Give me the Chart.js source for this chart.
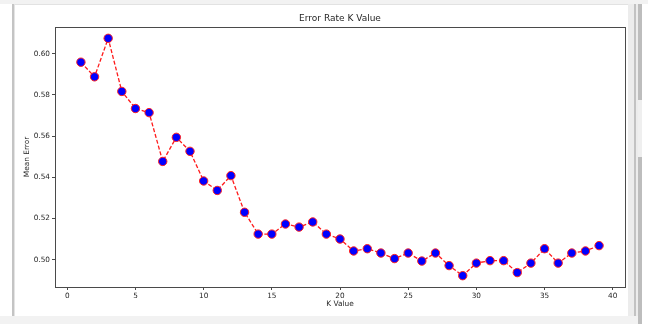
<!DOCTYPE html>
<html>
<head>
<meta charset="utf-8">
<script src="https://cdn.jsdelivr.net/npm/chart.js@4/dist/chart.umd.min.js"></script>
<style>
    body { margin: 0; background: #fff; }
    #wrap { position: relative; width: 648px; height: 324px; overflow: hidden; background: #fff; }
    .chrome { position: absolute; }
    canvas { position: absolute; left: 0; top: 0; }
</style>
</head>
<body>
<div id="wrap">
    <!-- window chrome round the figure -->
    <div class="chrome" style="left:0;top:0;width:648px;height:4px;background:#f2f2f2"></div>
    <div class="chrome" style="left:14px;top:4px;width:614px;height:1px;background:#e2e2e2"></div>
    <div class="chrome" style="left:12px;top:4px;width:2px;height:312px;background:#c4c4c4"></div>
    <div class="chrome" style="left:14px;top:4px;width:1px;height:312px;background:#e4e4e4"></div>
    <div class="chrome" style="left:628px;top:4px;width:6px;height:312px;background:#ececec"></div>
    <div class="chrome" style="left:634px;top:4px;width:2px;height:312px;background:#c2c2c2"></div>
    <div class="chrome" style="left:636px;top:4px;width:2px;height:312px;background:#ececec"></div>
    <div class="chrome" style="left:638px;top:4px;width:4px;height:96px;background:#bdbdbd"></div>
    <div class="chrome" style="left:638px;top:100px;width:4px;height:57px;background:#efefef"></div>
    <div class="chrome" style="left:638px;top:157px;width:4px;height:167px;background:#bdbdbd"></div>
    <div class="chrome" style="left:0;top:316px;width:638px;height:8px;background:#f2f2f2"></div>
    <canvas id="errorChart" width="648" height="324"></canvas>
</div>
<script>
// K values and mean error
const kValues = [1, 2, 3, 4, 5, 6, 7, 8, 9, 10, 11, 12, 13, 14, 15, 16, 17, 18, 19, 20,
    21, 22, 23, 24, 25, 26, 27, 28, 29, 30, 31, 32, 33, 34, 35, 36, 37, 38, 39];
const meanError = [0.5959, 0.5888, 0.6075, 0.5817, 0.5734, 0.5714, 0.5477, 0.5594, 0.5526, 0.5382,
    0.5336, 0.5408, 0.5230, 0.5124, 0.5124, 0.5173, 0.5158, 0.5183, 0.5124, 0.5100,
    0.5042, 0.5053, 0.5032, 0.5005, 0.5032, 0.4993, 0.5032, 0.4971, 0.4922, 0.4983,
    0.4995, 0.4995, 0.4937, 0.4983, 0.5053, 0.4983, 0.5032, 0.5042, 0.5068];
const xTicks = [0, 5, 10, 15, 20, 25, 30, 35, 40];
const yTicks = [0.50, 0.52, 0.54, 0.56, 0.58, 0.60];

const fontFamily = '"DejaVu Sans", sans-serif';
const textColor = '#262626';

// frame round the plot area and the title centred over it
const framePlugin = {
    id: 'frame',
    afterDraw(chart) {
        const { ctx, chartArea: a } = chart;
        ctx.save();
        ctx.strokeStyle = '#4a4a4a';
        ctx.lineWidth = 1;
        ctx.strokeRect(Math.round(a.left) + 0.5, Math.round(a.top) + 0.5,
            Math.round(a.right - a.left), Math.round(a.bottom - a.top));
        ctx.fillStyle = textColor;
        ctx.font = '9px ' + fontFamily;
        ctx.textAlign = 'center';
        ctx.textBaseline = 'middle';
        ctx.fillText('Error Rate K Value', (a.left + a.right) / 2, 19);
        ctx.restore();
    }
};

const ctx = document.getElementById('errorChart').getContext('2d');
new Chart(ctx, {
    type: 'line',
    data: {
        datasets: [{
            data: kValues.map((k, i) => ({ x: k, y: meanError[i] })),
            borderColor: '#ff1a1a',
            borderWidth: 1.3,
            borderDash: [4, 2],
            pointRadius: 4.2,
            pointBorderWidth: 1,
            pointBackgroundColor: '#0000ff',
            pointBorderColor: '#ff2020',
            tension: 0
        }]
    },
    options: {
        responsive: false,
        animation: false,
        devicePixelRatio: 1,
        layout: { padding: { left: 15, top: 27, right: 23, bottom: 0 } },
        plugins: {
            legend: { display: false },
            tooltip: { enabled: false }
        },
        scales: {
            x: {
                type: 'linear',
                min: -0.9,
                max: 40.9,
                afterBuildTicks: scale => { scale.ticks = xTicks.map(v => ({ value: v })); },
                afterFit: scale => { scale.height = 37; },
                border: { display: false },
                grid: { display: true, drawOnChartArea: false, drawTicks: true, tickLength: 3, tickColor: '#4a4a4a' },
                ticks: {
                    autoSkip: false,
                    maxRotation: 0,
                    padding: 2,
                    color: textColor,
                    font: { family: fontFamily, size: 7.3 },
                    callback: v => String(v)
                },
                title: {
                    display: true,
                    text: 'K Value',
                    color: textColor,
                    font: { family: fontFamily, size: 7.4 },
                    padding: { top: 0, bottom: 15 }
                }
            },
            y: {
                type: 'linear',
                min: 0.4867,
                max: 0.6130,
                afterBuildTicks: scale => { scale.ticks = yTicks.map(v => ({ value: v })); },
                afterFit: scale => { scale.width = 40; },
                border: { display: false },
                grid: { display: true, drawOnChartArea: false, drawTicks: true, tickLength: 3, tickColor: '#4a4a4a' },
                ticks: {
                    autoSkip: false,
                    padding: 2,
                    color: textColor,
                    font: { family: fontFamily, size: 7.3 },
                    callback: v => v.toFixed(2)
                },
                title: {
                    display: true,
                    text: 'Mean Error',
                    color: textColor,
                    font: { family: fontFamily, size: 7.4 },
                    padding: { top: 8, bottom: 0 }
                }
            }
        }
    },
    plugins: [framePlugin]
});
</script>
</body>
</html>
